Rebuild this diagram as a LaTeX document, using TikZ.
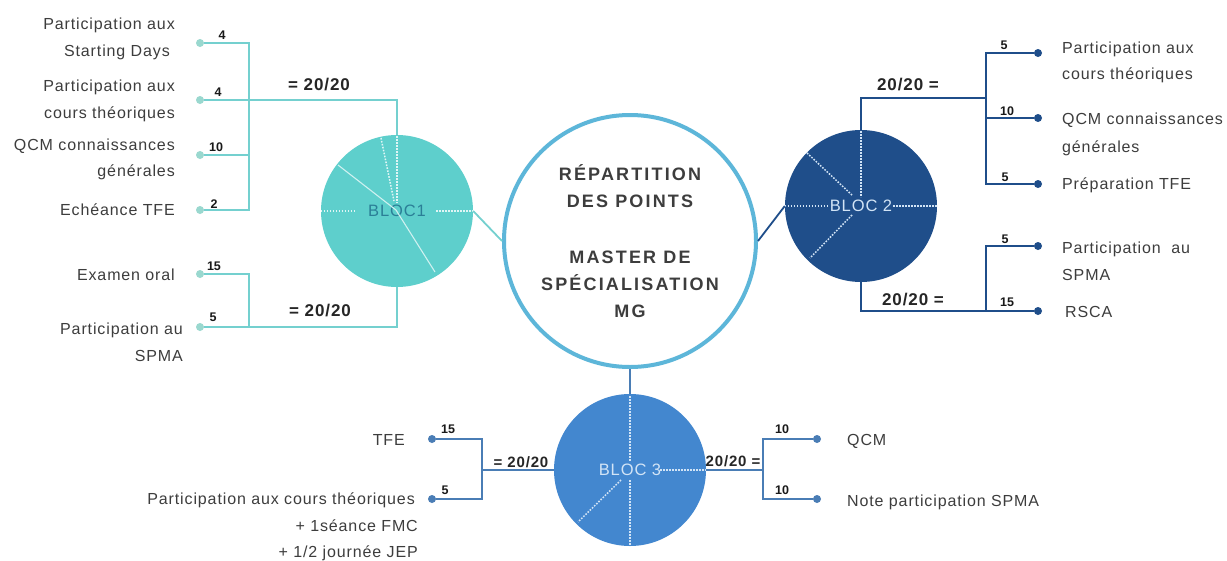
\documentclass[tikz,border=0pt]{standalone}
\usepackage{fontspec}
\setmainfont{Liberation Sans}
\newfontfamily\lblfont[LetterSpace=5.5]{Liberation Sans}
\newfontfamily\ttlfont[LetterSpace=12]{Liberation Sans}
\definecolor{tealfill}{HTML}{5ECFCC}
\definecolor{tealline}{HTML}{74D0CF}
\definecolor{tealdot}{HTML}{9AD8CF}
\definecolor{tealtext}{HTML}{2B7F97}
\definecolor{ring}{HTML}{5DB6D9}
\definecolor{navy}{HTML}{1F4E8A}
\definecolor{bluefill}{HTML}{4387CF}
\definecolor{blueline}{HTML}{4A7DB5}
\definecolor{txt}{HTML}{3D3D3D}
\definecolor{paletext}{HTML}{D2E4F6}
\begin{document}
\begin{tikzpicture}[x=1pt,y=-1pt,
  bloc/.style={circle, minimum size=152pt, inner sep=0pt, font=\lblfont\fontsize{16.5}{19}\selectfont},
  lbll/.style={anchor=base east, inner sep=0pt, font=\lblfont\fontsize{16}{19}\selectfont, text=txt},
  lblr/.style={anchor=base west, inner sep=0pt, font=\lblfont\fontsize{16}{19}\selectfont, text=txt},
  num/.style={inner sep=0pt, font=\bfseries\fontsize{12.5}{14}\selectfont, text=black!90},
  score/.style={inner sep=0pt, font=\lblfont\bfseries\fontsize{17}{19}\selectfont, text=black!85},
  scoresm/.style={inner sep=0pt, font=\lblfont\bfseries\fontsize{15}{17}\selectfont, text=black!85},
  dotA/.style={circle, fill=tealdot, inner sep=0pt, minimum size=8pt},
  dotB/.style={circle, fill=navy, inner sep=0pt, minimum size=8pt},
  dotC/.style={circle, fill=blueline, inner sep=0pt, minimum size=8pt},
  lA/.style={draw=tealline, line width=1.8pt},
  lB/.style={draw=navy, line width=1.8pt},
  lC/.style={draw=blueline, line width=1.8pt},
  dotline/.style={line width=1.5pt, dash pattern=on 1.6pt off 1.4pt}]
\fill[white] (0,0) rectangle (1227,560);
\useasboundingbox (0,0) rectangle (1227,560);

% ---------- centre ----------
\node[circle, draw=ring, line width=4pt, minimum size=252pt, inner sep=0pt] (c) at (630,241) {};
\node[align=center, inner sep=0pt, text=txt, font=\ttlfont\bfseries\fontsize{18}{27}\selectfont] (ct) at (630,241.5)
  {RÉPARTITION\\DES POINTS\\[29pt]MASTER DE\\SPÉCIALISATION\\MG};

% ---------- BLOC 1 ----------
\node[bloc, fill=tealfill, text=tealtext] (b1) at (397,211) {BLOC1};
\draw[white!80!tealfill, dotline] (b1.west) -- (355,211);
\draw[white!80!tealfill, dotline] (436,211) -- (b1.east);
\draw[white!80!tealfill, dotline] (397,136) -- (397,203);
\draw[white!80!tealfill, dotline] (381,138) -- (394,201);
\draw[white!70!tealfill, line width=1.1pt] (338,165) -- (396,210) -- (435,272);

\node[dotA] (d11) at (200,43) {};
\node[dotA] (d12) at (200,100) {};
\node[dotA] (d13) at (200,155) {};
\node[dotA] (d14) at (200,210) {};
\node[dotA] (d15) at (200,274) {};
\node[dotA] (d16) at (200,327) {};
\coordinate (j1a) at (249,100);
\coordinate (j1b) at (249,327);
\draw[lA] (b1.north) |- (d12);
\draw[lA] (d11) -- (d11 -| j1a) -- (d14 -| j1a) -- (d14);
\draw[lA] (d13) -- (d13 -| j1a);
\draw[lA] (b1.south) |- (d16);
\draw[lA] (d15) -- (d15 -| j1b) -- (j1b);
\draw[lA] (b1.east) -- (c.west);

\node[num] (n11) at (222,35) {4};
\node[num] (n12) at (218,92) {4};
\node[num] (n13) at (216,147) {10};
\node[num] (n14) at (214,204) {2};
\node[num] (n15) at (214,266) {15};
\node[num] (n16) at (213,317) {5};
\node[score] (s11) at (319,85) {= 20/20};
\node[score] (s12) at (320,311) {= 20/20};

\node[lbll] (t11a) at (175,29) {Participation aux};
\node[lbll] (t11b) at (170,56) {Starting Days};
\node[lbll] (t12a) at (175,91) {Participation aux};
\node[lbll] (t12b) at (175,118) {cours théoriques};
\node[lbll] (t13a) at (175,150) {QCM connaissances};
\node[lbll] (t13b) at (175,176) {générales};
\node[lbll] (t14) at (175,215) {Echéance TFE};
\node[lbll] (t15) at (175,280) {Examen oral};
\node[lbll] (t16a) at (183,334) {Participation au};
\node[lbll] (t16b) at (183,361) {SPMA};

% ---------- BLOC 2 ----------
\node[bloc, fill=navy, text=paletext] (b2) at (861,206) {BLOC 2};
\draw[paletext, dotline] (b2.west) -- (829,206);
\draw[paletext, dotline] (893,206) -- (b2.east);
\draw[paletext, dotline] (861,131) -- (861,197);
\draw[paletext, dotline] (807,153) -- (853,196);
\draw[paletext, dotline] (852,215) -- (810,258);

\node[dotB] (d21) at (1038,53) {};
\node[dotB] (d22) at (1038,118) {};
\node[dotB] (d23) at (1038,184) {};
\node[dotB] (d24) at (1038,246) {};
\node[dotB] (d25) at (1038,311) {};
\coordinate (j2a) at (986,98);
\coordinate (j2b) at (986,311);
\draw[lB] (c.east) -- (b2.west);
\draw[lB] (b2.north) |- (j2a);
\draw[lB] (d21) -- (d21 -| j2a) -- (d23 -| j2a) -- (d23);
\draw[lB] (j2a |- d22) -- (d22);
\draw[lB] (b2.south) |- (d25);
\draw[lB] (d24) -- (d24 -| j2b) -- (j2b);

\node[num] (n21) at (1004,45) {5};
\node[num] (n22) at (1007,111) {10};
\node[num] (n23) at (1005,177) {5};
\node[num] (n24) at (1005,239) {5};
\node[num] (n25) at (1007,302) {15};
\node[score] (s21) at (908,85) {20/20 =};
\node[score] (s22) at (913,300) {20/20 =};

\node[lblr] (t21a) at (1062,53) {Participation aux};
\node[lblr] (t21b) at (1062,79) {cours théoriques};
\node[lblr] (t22a) at (1062,124) {QCM connaissances};
\node[lblr] (t22b) at (1062,152) {générales};
\node[lblr] (t23) at (1062,189) {Préparation TFE};
\node[lblr] (t24a) at (1062,253) {Participation\ \ au};
\node[lblr] (t24b) at (1062,280) {SPMA};
\node[lblr] (t25) at (1065,317) {RSCA};

% ---------- BLOC 3 ----------
\node[bloc, fill=bluefill, text=paletext] (b3) at (630,470) {BLOC 3};
\draw[paletext, dotline] (660,470) -- (b3.east);
\draw[paletext, dotline] (630,396) -- (630,461);
\draw[paletext, dotline] (630,480) -- (630,545);
\draw[paletext, dotline] (621,480) -- (578,522);

\node[dotC] (d31) at (432,439) {};
\node[dotC] (d32) at (432,499) {};
\node[dotC] (d33) at (817,439) {};
\node[dotC] (d34) at (817,499) {};
\coordinate (j3a) at (482,470);
\coordinate (j3b) at (763,470);
\draw[lC] (c.south) -- (b3.north);
\draw[lC] (b3.west) -- (j3a);
\draw[lC] (d31) -- (d31 -| j3a) -- (d32 -| j3a) -- (d32);
\draw[lC] (b3.east) -- (j3b);
\draw[lC] (d33) -- (d33 -| j3b) -- (d34 -| j3b) -- (d34);

\node[num] (n31) at (448,429) {15};
\node[num] (n32) at (445,490) {5};
\node[num] (n33) at (782,429) {10};
\node[num] (n34) at (782,490) {10};
\node[scoresm] (s31) at (521,462) {= 20/20};
\node[scoresm] (s32) at (733,461) {20/20 =};

\node[lbll] (t31) at (405,445) {TFE};
\node[lbll] (t32a) at (415,504) {Participation aux cours théoriques};
\node[lbll] (t32b) at (418,531) {+ 1séance FMC};
\node[lbll] (t32c) at (418,557) {+ 1/2 journée JEP};
\node[lblr] (t33) at (847,445) {QCM};
\node[lblr] (t34) at (847,506) {Note participation SPMA};
\end{tikzpicture}
\end{document}
